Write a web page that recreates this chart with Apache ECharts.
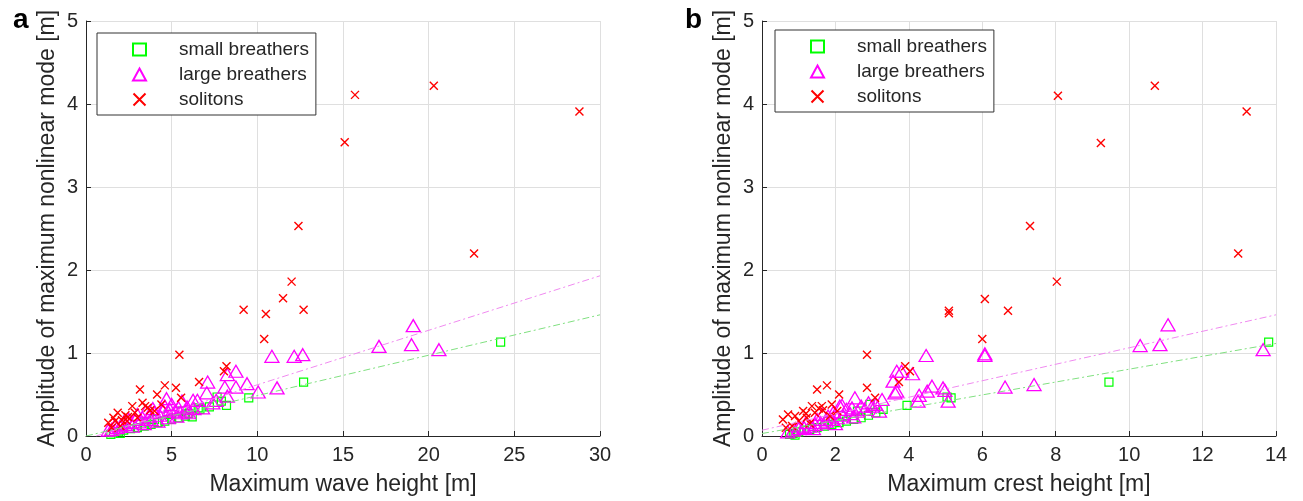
<!DOCTYPE html>
<html><head><meta charset="utf-8">
<script src="https://cdn.jsdelivr.net/npm/echarts@6/dist/echarts.min.js"></script>
<style>html,body{margin:0;padding:0;background:#fff}#c{width:1303px;height:501px}</style>
</head><body><div id="c"></div>
<script>
// ---------- DATA ----------
// Panel a: x = maximum wave height [m], y = amplitude of maximum nonlinear mode [m]
const smallA = [[24.2,1.13],[12.7,0.65],[9.5,0.46],[8.2,0.37],[6.65,0.32],[6.2,0.23],[7.65,0.47],[6.55,0.34],[1.45,0.02],[1.6,0.04],[1.9,0.05],[2.2,0.07],[2.6,0.09],[3.0,0.1],[3.4,0.12],[3.8,0.14],[4.2,0.16],[4.6,0.18],[5.0,0.2],[5.4,0.22],[5.8,0.24],[2.0,0.03],[4.0,0.2],[4.8,0.26],[5.6,0.3],[3.5,0.17],[6.0,0.27],[7.2,0.35],[7.9,0.42]];
const largeA = [[19.1,1.33],[17.1,1.08],[19.0,1.1],[20.6,1.04],[10.85,0.96],[12.15,0.96],[12.65,0.98],[8.75,0.78],[8.25,0.74],[9.4,0.63],[8.1,0.59],[8.75,0.59],[10.05,0.53],[11.15,0.58],[7.1,0.65],[7.05,0.52],[8.25,0.48],[7.6,0.43],[6.25,0.43],[6.5,0.43],[4.7,0.45],[5.9,0.35],[5.6,0.42],[4.9,0.32],[5.2,0.3],[5.5,0.28],[6.0,0.28],[4.5,0.3],[4.0,0.28],[4.3,0.25],[3.7,0.24],[3.3,0.22],[3.8,0.2],[2.9,0.2],[3.1,0.17],[2.6,0.16],[2.3,0.14],[2.0,0.12],[1.8,0.1],[1.5,0.08],[1.3,0.07],[2.7,0.12],[3.4,0.15],[4.2,0.18],[4.8,0.22],[5.3,0.24],[5.8,0.3],[6.3,0.33],[3.5,0.3],[4.6,0.36],[5.0,0.38],[2.5,0.2],[6.8,0.34],[7.4,0.4],[3.0,0.26],[3.9,0.33],[5.4,0.34],[2.2,0.17],[1.7,0.13]];
const solitonsA = [[28.8,3.91],[20.3,4.22],[15.7,4.11],[15.1,3.54],[22.65,2.2],[12.4,2.53],[12.0,1.86],[11.5,1.66],[12.7,1.52],[9.2,1.52],[10.5,1.47],[10.4,1.17],[5.45,0.98],[8.2,0.84],[8.05,0.78],[6.6,0.65],[4.6,0.61],[5.25,0.58],[3.15,0.56],[4.15,0.5],[5.55,0.46],[3.3,0.4],[2.7,0.36],[3.45,0.36],[3.6,0.34],[3.75,0.31],[2.85,0.28],[1.85,0.28],[2.3,0.25],[2.45,0.23],[1.6,0.22],[3.0,0.22],[2.1,0.19],[2.4,0.18],[1.7,0.18],[1.3,0.16],[1.5,0.1],[4.0,0.3],[2.0,0.12],[4.4,0.38]];
const fitLargeA = [[0.6,0.0],[30,1.93]];
const fitSmallA = [[0,0.0],[30,1.46]];

// Panel b: x = maximum crest height [m]
const smallB = [[13.8,1.13],[9.45,0.65],[3.95,0.37],[5.04,0.47],[5.15,0.46],[0.75,0.02],[0.85,0.03],[1.0,0.05],[1.15,0.07],[1.3,0.08],[1.5,0.1],[1.7,0.12],[1.9,0.14],[2.1,0.16],[2.3,0.18],[2.5,0.2],[2.7,0.22],[2.9,0.25],[3.1,0.28],[2.94,0.38],[2.6,0.3],[3.3,0.32],[0.9,0.01],[1.8,0.18],[2.2,0.24]];
const largeB = [[11.06,1.34],[10.3,1.09],[10.84,1.1],[13.65,1.04],[4.47,0.97],[6.07,0.97],[6.07,0.99],[3.8,0.78],[4.1,0.75],[3.57,0.66],[3.62,0.52],[4.63,0.6],[4.93,0.58],[4.5,0.54],[4.28,0.49],[4.25,0.42],[5.07,0.42],[4.98,0.55],[6.62,0.59],[7.41,0.62],[2.53,0.46],[3.27,0.44],[2.12,0.36],[3.0,0.36],[3.67,0.78],[3.67,0.54],[2.18,0.37],[0.7,0.05],[0.85,0.07],[1.0,0.09],[1.15,0.1],[1.3,0.12],[1.45,0.14],[1.6,0.16],[1.75,0.18],[1.9,0.2],[2.05,0.22],[2.2,0.25],[2.4,0.27],[2.6,0.3],[2.8,0.32],[1.2,0.16],[1.5,0.2],[1.8,0.24],[2.3,0.32],[2.7,0.36],[3.1,0.38],[1.0,0.12],[1.4,0.09],[2.0,0.15],[2.5,0.23],[3.2,0.3],[1.65,0.26],[2.9,0.4],[1.95,0.29],[2.45,0.34]];
const solitonsB = [[13.2,3.91],[10.7,4.22],[8.06,4.1],[9.23,3.53],[12.97,2.2],[7.3,2.53],[8.03,1.86],[6.07,1.65],[6.7,1.51],[5.09,1.51],[5.09,1.48],[6.0,1.17],[2.86,0.98],[3.9,0.84],[4.03,0.78],[3.73,0.65],[1.77,0.61],[2.86,0.58],[1.5,0.56],[2.1,0.5],[3.08,0.46],[1.36,0.36],[1.63,0.36],[1.66,0.31],[1.12,0.3],[0.9,0.24],[0.71,0.26],[0.57,0.2],[1.85,0.24],[1.22,0.22],[0.82,0.12],[1.44,0.28],[1.0,0.18],[1.3,0.15],[0.65,0.1],[1.55,0.33],[1.9,0.38],[2.05,0.3],[1.2,0.27]];
const fitLargeB = [[0,0.07],[14,1.46]];
const fitSmallB = [[0,0.03],[14,1.115]];

const xTicksA = {min:0, max:30, interval:5};
const xTicksB = {min:0, max:14, interval:2};
const yTicks = {min:0, max:5, interval:1};
const names = ['small breathers','large breathers','solitons'];
const xNames = ['Maximum wave height [m]','Maximum crest height [m]'];
const yName = 'Amplitude of maximum nonlinear mode [m]';
const panelLabels = ['a','b'];

// ---------- STYLE ----------
const FONT = 'Liberation Sans';
const TXT = '#262626';
const GREEN = '#00ff00', MAG = '#ff00ff', RED = '#ff0000';
const XPATH = 'path://M0,0L10,10M10,0L0,10';

function xAxis(idx, t, name){
  return {type:'value', gridIndex:idx, min:t.min, max:t.max, interval:t.interval,
    name:name, nameLocation:'middle', nameGap:37,
    nameTextStyle:{fontFamily:FONT, fontSize:23, color:TXT},
    axisLine:{show:true, onZero:false, lineStyle:{color:TXT, width:1}},
    axisTick:{show:true, inside:true, length:5, lineStyle:{color:TXT}},
    axisLabel:{fontFamily:FONT, fontSize:20, color:TXT, margin:9},
    splitLine:{show:true, lineStyle:{color:'#dfdfdf', width:1}}};
}
function yAxis(idx){
  return {type:'value', gridIndex:idx, min:yTicks.min, max:yTicks.max, interval:yTicks.interval,
    name:yName, nameLocation:'middle', nameGap:27, nameRotate:90,
    nameTextStyle:{fontFamily:FONT, fontSize:23, color:TXT},
    axisLine:{show:true, onZero:false, lineStyle:{color:TXT, width:1}},
    axisTick:{show:true, inside:true, length:5, lineStyle:{color:TXT}},
    axisLabel:{fontFamily:FONT, fontSize:20, color:TXT, margin:8},
    splitLine:{show:true, lineStyle:{color:'#dfdfdf', width:1}}};
}
function scatter(name, data, idx, sym, size, color, bw){
  return {type:'scatter', name:name, data:data, xAxisIndex:idx, yAxisIndex:idx,
    symbol:sym, symbolSize:size, silent:true,
    itemStyle:{color:'rgba(0,0,0,0)', borderColor:color, borderWidth:bw, opacity:1}};
}
function fit(data, idx, color){
  return {type:'line', data:data, xAxisIndex:idx, yAxisIndex:idx, showSymbol:false, symbol:'none',
    silent:true, lineStyle:{color:color, width:1, type:[7,3,2,3]}, z:3};
}
function legend(left, top){
  return {orient:'vertical', left:left, top:top, data:names, selectedMode:false,
    itemWidth:13, itemHeight:12, itemGap:6,
    padding:[7,7,6,35], backgroundColor:'#fff', borderColor:'#333', borderWidth:1,
    textStyle:{fontFamily:FONT, fontSize:19, color:TXT, padding:[0,0,0,28]}};
}

const chart = echarts.init(document.getElementById('c'), null, {renderer:'canvas'});
chart.setOption({
  animation:false,
  title:[
    {text:panelLabels[0], left:8, top:1, textStyle:{fontFamily:FONT, fontSize:28, fontWeight:'bold', color:'#000'}},
    {text:panelLabels[1], left:680, top:1, textStyle:{fontFamily:FONT, fontSize:28, fontWeight:'bold', color:'#000'}}
  ],
  grid:[
    {left:86, top:21, width:514, height:417},
    {left:762, top:21, width:514, height:417}
  ],
  xAxis:[xAxis(0, xTicksA, xNames[0]), xAxis(1, xTicksB, xNames[1])],
  yAxis:[yAxis(0), yAxis(1)],
  legend:[legend(97,33), legend(775,30)],
  series:[
    scatter(names[0], smallA, 0, 'rect', 8, GREEN, 1.2),
    scatter(names[1], largeA, 0, 'triangle', [14,12], MAG, 1.3),
    scatter(names[2], solitonsA, 0, XPATH, 8, RED, 1.4),
    fit(fitLargeA, 0, '#f08af0'),
    fit(fitSmallA, 0, '#80e080'),
    scatter(names[0], smallB, 1, 'rect', 8, GREEN, 1.2),
    scatter(names[1], largeB, 1, 'triangle', [14,12], MAG, 1.3),
    scatter(names[2], solitonsB, 1, XPATH, 8, RED, 1.4),
    fit(fitLargeB, 1, '#f08af0'),
    fit(fitSmallB, 1, '#80e080')
  ]
});
</script></body></html>
